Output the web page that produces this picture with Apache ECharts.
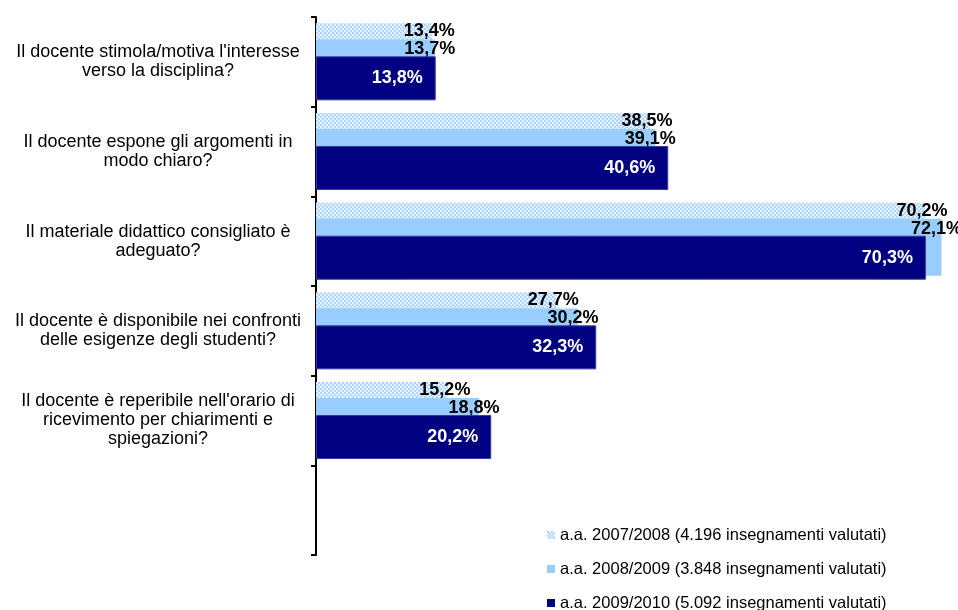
<!DOCTYPE html>
<html>
<head>
<meta charset="utf-8">
<script src="https://cdn.jsdelivr.net/npm/echarts@6/dist/echarts.min.js"></script>
<style>
  html, body { margin: 0; padding: 0; background: #fff; }
  #chart { width: 958px; height: 610px; }
</style>
</head>
<body>
<div id="chart"></div>
<script>
// Questions (the last empty band leaves room for the legend)
const categories = [
  "Il docente stimola/motiva l'interesse\nverso la disciplina?",
  "Il docente espone gli argomenti in\nmodo chiaro?",
  "Il materiale didattico consigliato è\nadeguato?",
  "Il docente è disponibile nei confronti\ndelle esigenze degli studenti?",
  "Il docente è reperibile nell'orario di\nricevimento per chiarimenti e\nspiegazioni?",
  ""
];

const seriesNames = [
  "a.a. 2007/2008 (4.196 insegnamenti valutati)",
  "a.a. 2008/2009 (3.848 insegnamenti valutati)",
  "a.a. 2009/2010 (5.092 insegnamenti valutati)"
];

// Percentages per academic year
const values2007 = [13.4, 38.5, 70.2, 27.7, 15.2, null];
const values2008 = [13.7, 39.1, 72.1, 30.2, 18.8, null];
const values2009 = [13.8, 40.6, 70.3, 32.3, 20.2, null];

// Small checkerboard tile for the 2007/2008 bars
function checkerTile() {
  const c = document.createElement('canvas');
  c.width = 4; c.height = 4;
  const ctx = c.getContext('2d');
  ctx.fillStyle = '#e4f1ff';
  ctx.fillRect(0, 0, 4, 4);
  ctx.fillStyle = '#aed6ff';
  ctx.fillRect(0, 0, 2, 2);
  ctx.fillRect(2, 2, 2, 2);
  return c;
}

const fmt = p => p.value == null ? '' : p.value.toFixed(1).replace('.', ',') + '%';
const font = '"Liberation Sans", Arial, sans-serif';

// One legend block per year, stacked in the empty bottom band
const legendRows = seriesNames.map((name, i) => ({
  orient: 'vertical',
  left: 547,
  top: 526 + i * 34,
  padding: 0,
  icon: 'rect',
  itemWidth: 8,
  itemHeight: 8,
  itemStyle: { borderWidth: 0 },
  textStyle: { fontFamily: font, fontSize: 16.5, lineHeight: 18, color: '#000' },
  data: [name]
}));

const chart = echarts.init(document.getElementById('chart'), null, { renderer: 'canvas' });

chart.setOption({
  animation: false,
  backgroundColor: '#fff',
  grid: { left: 316, right: 0, top: 17, bottom: 55, containLabel: false },
  xAxis: {
    type: 'value', min: 0, max: 74, show: false
  },
  yAxis: {
    type: 'category',
    inverse: true,
    data: categories,
    axisLine: { show: true, lineStyle: { color: '#000', width: 2 } },
    axisTick: { show: true, length: 5, lineStyle: { color: '#000', width: 2 } },
    axisLabel: {
      interval: 0,
      align: 'center',
      margin: 158,
      fontFamily: font,
      fontSize: 18,
      lineHeight: 19,
      color: '#000'
    },
    splitLine: { show: false }
  },
  legend: legendRows,
  series: [
    {
      name: seriesNames[0],
      type: 'bar',
      data: values2007,
      barWidth: 54,
      barGap: '-70.2%',
      itemStyle: { color: { image: checkerTile(), repeat: 'repeat' } },
      label: {
        show: true, position: ['100%', 8], offset: [-3, 0],
        align: 'center', verticalAlign: 'middle',
        formatter: fmt, fontFamily: font, fontSize: 18, fontWeight: 'bold', color: '#000'
      },
      z: 2
    },
    {
      name: seriesNames[1],
      type: 'bar',
      data: values2008,
      barWidth: 57,
      barGap: '-70.2%',
      itemStyle: { color: '#99ccff' },
      label: {
        show: true, position: ['100%', 10], offset: [-5, 0],
        align: 'center', verticalAlign: 'middle',
        formatter: fmt, fontFamily: font, fontSize: 18, fontWeight: 'bold', color: '#000'
      },
      z: 3
    },
    {
      name: seriesNames[2],
      type: 'bar',
      data: values2009,
      barWidth: 44,
      barGap: '-70.2%',
      itemStyle: { color: '#000080', borderColor: '#3a3aa6', borderWidth: 1 },
      label: {
        show: true, position: 'insideRight', distance: 13,
        formatter: fmt, fontFamily: font, fontSize: 18, fontWeight: 'bold', color: '#fff'
      },
      z: 4
    }
  ]
});
</script>
</body>
</html>
